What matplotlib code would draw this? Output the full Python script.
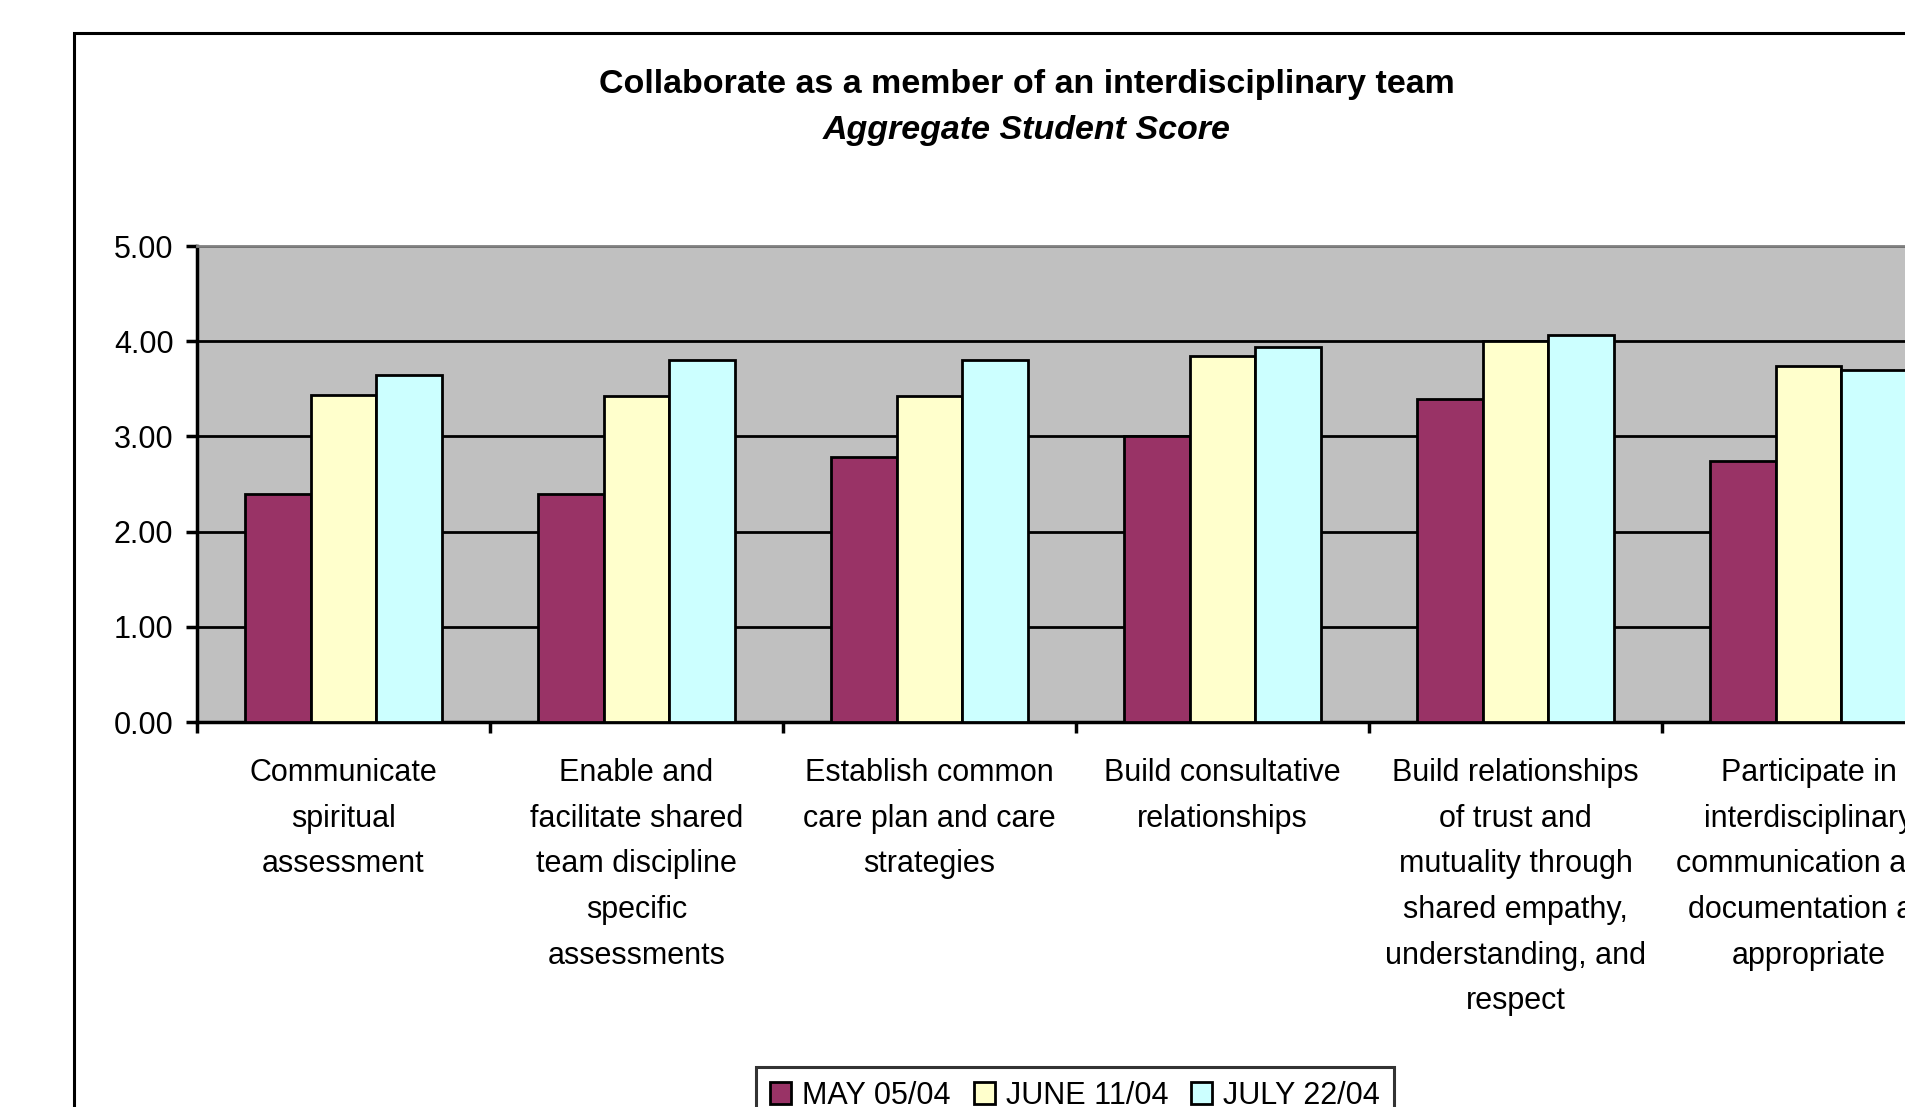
import matplotlib.pyplot as plt
from matplotlib.patches import Rectangle

plt.rcParams['font.family'] = ['Liberation Sans', 'DejaVu Sans']

# data
categories = [
    "Communicate\nspiritual\nassessment",
    "Enable and\nfacilitate shared\nteam discipline\nspecific\nassessments",
    "Establish common\ncare plan and care\nstrategies",
    "Build consultative\nrelationships",
    "Build relationships\nof trust and\nmutuality through\nshared empathy,\nunderstanding, and\nrespect",
    "Participate in\ninterdisciplinary\ncommunication and\ndocumentation as\nappropriate",
]
may = [2.40, 2.40, 2.78, 3.00, 3.39, 2.74]
june = [3.43, 3.42, 3.42, 3.84, 4.00, 3.74]
july = [3.64, 3.80, 3.80, 3.94, 4.06, 3.70]
series_names = ["MAY 05/04", "JUNE 11/04", "JULY 22/04"]
colors = ["#993366", "#FFFFCC", "#CCFFFF"]

W, H = 1906, 1107
fig = plt.figure(figsize=(W / 100, H / 100), dpi=100)

# outer chart frame (runs off the right and bottom edges)
fig.patches.append(Rectangle((74 / W, -0.2), 2.0, (H - 33) / H + 0.2,
                             transform=fig.transFigure, fill=False,
                             edgecolor='black', linewidth=2.2))

ax = fig.add_axes([197 / W, (H - 722) / H, (1955 - 197) / W, (722 - 246) / H])
ax.set_facecolor('#C0C0C0')

n = len(categories)
bw = 0.225
centers = [i + 0.5 for i in range(n)]
for k, (vals, name, c) in enumerate(zip([may, june, july], series_names, colors)):
    xs = [x + (k - 1) * bw for x in centers]
    ax.bar(xs, vals, width=bw, color=c, edgecolor='black', linewidth=2.0,
           label=name, zorder=3)

ax.set_xlim(0, n)
ax.set_ylim(0, 5)
ax.set_yticks([0, 1, 2, 3, 4, 5])
ax.set_yticklabels([f"{v:.2f}" for v in [0, 1, 2, 3, 4, 5]], fontsize=22)
ax.yaxis.grid(True, color='black', linewidth=2.0, zorder=1)
ax.set_axisbelow(True)

ax.set_xticks(range(n + 1))
ax.set_xticklabels([])
ax.set_xticks(centers, minor=True)
ax.set_xticklabels(categories, minor=True, fontsize=22, linespacing=1.68,
                   ha='center', va='top')
ax.tick_params(axis='x', which='minor', length=0, pad=26)
ax.tick_params(axis='x', which='major', length=8, width=2.5, direction='out')
ax.tick_params(axis='y', length=8, width=2.5, direction='out', pad=9)

for s in ['left', 'bottom']:
    ax.spines[s].set_linewidth(2.5)
    ax.spines[s].set_color('black')
ax.spines['top'].set_color('#808080')
ax.spines['top'].set_linewidth(2.0)
ax.spines['right'].set_visible(False)

fig.text(1027 / W, 1 - 85 / H, "Collaborate as a member of an interdisciplinary team",
         ha='center', va='center', fontsize=24.5, fontweight='bold')
fig.text(1027 / W, 1 - 131 / H, "Aggregate Student Score",
         ha='center', va='center', fontsize=24.5, fontweight='bold', style='italic')

leg = ax.legend(loc='upper center', bbox_to_anchor=(1075 / W, (H - 1067) / H),
                bbox_transform=fig.transFigure, ncol=3, fontsize=22,
                frameon=True, fancybox=False, edgecolor='black',
                handlelength=0.7, handleheight=0.7, handletextpad=0.35,
                columnspacing=0.75, borderpad=0.45, borderaxespad=0)
leg.get_frame().set_linewidth(2.2)

fig.savefig("out.png", dpi=100)
